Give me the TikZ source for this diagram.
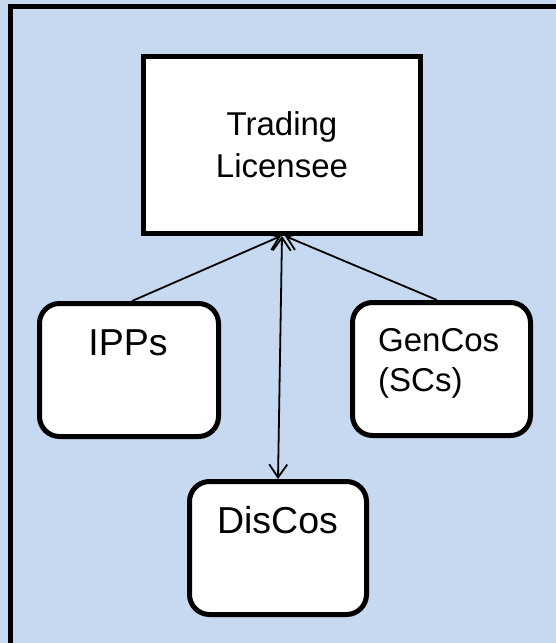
\documentclass[tikz,border=0pt]{standalone}
\usepackage{fontspec}
\setmainfont{Liberation Sans}
\usetikzlibrary{arrows.meta}

\definecolor{panelblue}{RGB}{198,217,240}

\tikzset{
  frameline/.style={line width=5pt, draw=black},
  plainbox/.style={draw=black, fill=white, line width=5pt, rectangle, inner sep=0pt},
  roundbox/.style={plainbox, rounded corners=20pt},
  boxtext/.style={inner sep=0pt, anchor=base, font=\fontsize{33}{41}\selectfont},
  bigtext/.style={inner sep=0pt, anchor=base, font=\fontsize{37.5}{45}\selectfont},
  link/.style={draw=black, line width=1.8pt, -{Straight Barb[length=13pt,width=18pt]}},
  duallink/.style={draw=black, line width=1.8pt, {Straight Barb[length=13pt,width=18pt]}-{Straight Barb[length=13pt,width=18pt]}}
}

\begin{document}
\begin{tikzpicture}[x=1pt, y=-1pt]
  % canvas and outer frame
  \fill[panelblue] (0,0) rectangle (556,643);
  \useasboundingbox (0,0) rectangle (556,643);
  \begin{scope}
    \clip (0,0) rectangle (556,643);
    \draw[frameline] (10.5,6) rectangle (562,645);
  \end{scope}

  % boxes
  \node[plainbox, minimum width=277pt, minimum height=177pt] (trading) at (282,145) {};
  \node[roundbox, minimum width=179pt, minimum height=133pt] (ipps) at (129,370) {};
  \node[roundbox, minimum width=178pt, minimum height=133pt] (gencos) at (441.5,369) {};
  \node[roundbox, minimum width=177pt, minimum height=133pt] (discos) at (278,548) {};

  % labels
  \node[boxtext] (tradingA) at (282,135) {Trading};
  \node[boxtext] (tradingB) at (282,177) {Licensee};
  \node[bigtext] (ippsT) at (128,355) {IPPs};
  \node[boxtext, anchor=base west] (gencosA) at (378,351) {GenCos};
  \node[boxtext, anchor=base west] (gencosB) at (378,391) {(SCs)};
  \node[bigtext] (discosT) at (277.5,533) {DisCos};

  % connectors
  \draw[link] ([xshift=3pt]ipps.north) -- ([xshift=-1pt]trading.south);
  \draw[link] ([xshift=-4.5pt]gencos.north) -- ([xshift=3pt]trading.south);
  \draw[duallink] (trading.south) -- (discos.north);
\end{tikzpicture}
\end{document}
